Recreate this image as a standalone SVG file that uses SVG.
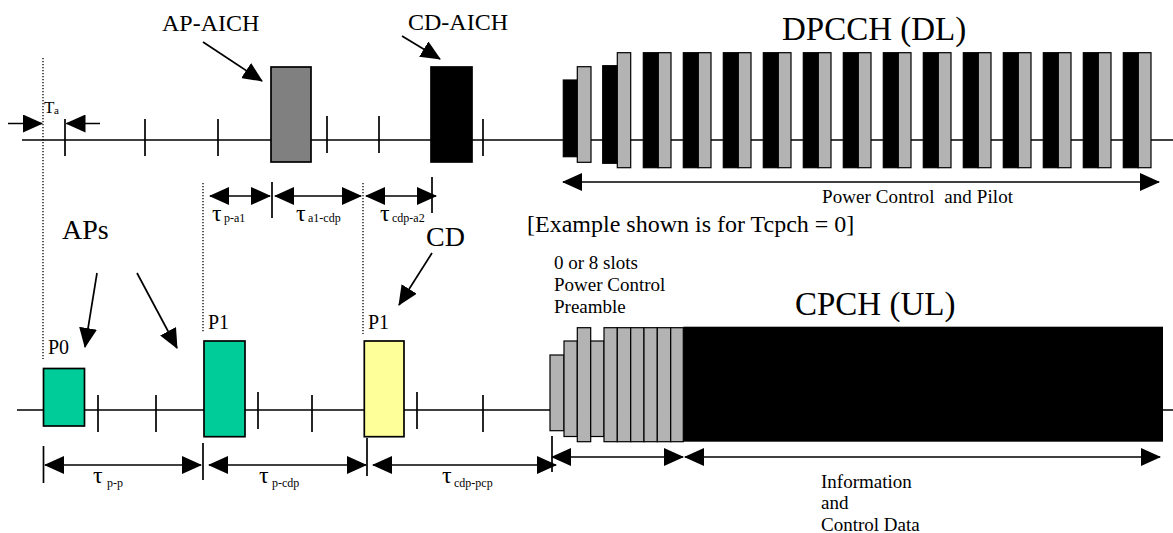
<svg xmlns="http://www.w3.org/2000/svg" width="1173" height="533" viewBox="0 0 1173 533">
<style>
text{font-family:"Liberation Serif","Times New Roman",serif;fill:#000}
.ln{stroke:#000;stroke-width:1.7;fill:none}
.dot{stroke:#000;stroke-width:1.3;stroke-dasharray:1.3,1.7;fill:none}
.da{stroke:#000;stroke-width:1.7;fill:none;marker-start:url(#ah);marker-end:url(#ah)}
.ar{stroke:#000;stroke-width:1.7;fill:none;marker-end:url(#ah)}
.blk{fill:#000;stroke:#000;stroke-width:1.2}
.gry{fill:#b3b3b3;stroke:#000;stroke-width:1.2}
.box{stroke:#000;stroke-width:1.7}
.t24{font-size:24px}.t33{font-size:33px}.t28{font-size:28px}.t20{font-size:20px}.t19{font-size:19px}
.tau{font-size:24px}.sub{font-size:12px}
</style>
<defs>
<marker id="ah" viewBox="0 0 20 18" refX="19" refY="9" markerWidth="20" markerHeight="18" markerUnits="userSpaceOnUse" orient="auto-start-reverse"><path d="M0,0 L20,9 L0,18 z" fill="#000"/></marker>
</defs>

<g id="connectors">
<!-- timelines -->
<line class="ln" x1="22" y1="140" x2="1173" y2="140"/>
<line class="ln" x1="17" y1="410" x2="1173" y2="410"/>
<!-- top ticks -->
<line class="ln" x1="65" y1="119" x2="65" y2="156"/>
<line class="ln" x1="145" y1="119" x2="145" y2="156"/>
<line class="ln" x1="218" y1="119" x2="218" y2="156"/>
<line class="ln" x1="327" y1="116" x2="327" y2="153"/>
<line class="ln" x1="379" y1="116" x2="379" y2="153"/>
<line class="ln" x1="483" y1="119" x2="483" y2="156"/>
<!-- bottom ticks -->
<line class="ln" x1="98" y1="395" x2="98" y2="432"/>
<line class="ln" x1="156" y1="395" x2="156" y2="432"/>
<line class="ln" x1="258" y1="392" x2="258" y2="429"/>
<line class="ln" x1="312" y1="395" x2="312" y2="432"/>
<line class="ln" x1="417" y1="392" x2="417" y2="429"/>
<line class="ln" x1="483" y1="395" x2="483" y2="432"/>
<!-- dotted reference lines -->
<line class="dot" x1="43" y1="58" x2="43" y2="359"/>
<line class="dot" x1="203" y1="183" x2="203" y2="333"/>
<line class="dot" x1="363" y1="183" x2="363" y2="334"/>
<!-- Ta arrows -->
<line class="ar" x1="8" y1="123.5" x2="42" y2="123.5"/>
<line class="ar" x1="100" y1="123.5" x2="66.5" y2="123.5"/>
<!-- top dimension arrows -->
<line class="ln" x1="272" y1="182" x2="272" y2="218"/>
<line class="ln" x1="432" y1="177" x2="432" y2="213"/>
<line class="da" x1="210" y1="196" x2="270" y2="196"/>
<line class="da" x1="275" y1="196" x2="361" y2="196"/>
<line class="da" x1="366" y1="196" x2="436" y2="196"/>
<!-- power control and pilot -->
<line class="da" x1="563" y1="182" x2="1159" y2="182"/>
<!-- bottom dimension arrows -->
<line class="ln" x1="43.5" y1="446" x2="43.5" y2="483"/>
<line class="ln" x1="203" y1="443" x2="203" y2="480"/>
<line class="ln" x1="367" y1="438" x2="367" y2="476"/>
<line class="ln" x1="552" y1="436" x2="552" y2="472"/>
<line class="da" x1="45" y1="465" x2="201" y2="465"/>
<line class="da" x1="209" y1="465" x2="366" y2="465"/>
<line class="da" x1="373" y1="465" x2="556" y2="465"/>
<line class="da" x1="552" y1="457" x2="683" y2="457"/>
<line class="da" x1="685" y1="457" x2="1160" y2="457"/>
<!-- callout arrows -->
<line class="ar" x1="203" y1="42" x2="262" y2="81"/>
<line class="ar" x1="402" y1="36" x2="440" y2="59"/>
<line class="ar" x1="97" y1="273" x2="85" y2="347"/>
<line class="ar" x1="137" y1="273" x2="177" y2="348"/>
<line class="ar" x1="432" y1="253" x2="399" y2="305"/>
</g>

<g id="ap-aich">
<rect class="box" x="271" y="67" width="40" height="95" fill="#808080"/>
<text class="t24" x="162" y="31">AP-AICH</text>
</g>
<g id="cd-aich">
<rect class="box" x="431" y="67" width="41" height="95" fill="#000"/>
<text class="t24" x="408" y="30">CD-AICH</text>
</g>

<g id="dpcch">
<rect class="blk" x="563.3" y="80" width="14" height="76.7"/>
<rect class="gry" x="577.3" y="66.7" width="13.7" height="95.6"/>
<rect class="blk" x="602.7" y="65.7" width="14.6" height="97.6"/>
<rect class="gry" x="617.3" y="52.7" width="13.4" height="115"/>
<g id="dpcch-slots">
<rect class="blk" x="643.3" y="52.7" width="15" height="115"/><rect class="gry" x="658.3" y="52.7" width="12.7" height="115"/>
<rect class="blk" x="683.3" y="52.7" width="15" height="115"/><rect class="gry" x="698.3" y="52.7" width="12.7" height="115"/>
<rect class="blk" x="723.3" y="52.7" width="15" height="115"/><rect class="gry" x="738.3" y="52.7" width="12.7" height="115"/>
<rect class="blk" x="763.3" y="52.7" width="15" height="115"/><rect class="gry" x="778.3" y="52.7" width="12.7" height="115"/>
<rect class="blk" x="803.3" y="52.7" width="15" height="115"/><rect class="gry" x="818.3" y="52.7" width="12.7" height="115"/>
<rect class="blk" x="843.3" y="52.7" width="15" height="115"/><rect class="gry" x="858.3" y="52.7" width="12.7" height="115"/>
<rect class="blk" x="883.3" y="52.7" width="15" height="115"/><rect class="gry" x="898.3" y="52.7" width="12.7" height="115"/>
<rect class="blk" x="923.3" y="52.7" width="15" height="115"/><rect class="gry" x="938.3" y="52.7" width="12.7" height="115"/>
<rect class="blk" x="963.3" y="52.7" width="15" height="115"/><rect class="gry" x="978.3" y="52.7" width="12.7" height="115"/>
<rect class="blk" x="1003.3" y="52.7" width="15" height="115"/><rect class="gry" x="1018.3" y="52.7" width="12.7" height="115"/>
<rect class="blk" x="1043.3" y="52.7" width="15" height="115"/><rect class="gry" x="1058.3" y="52.7" width="12.7" height="115"/>
<rect class="blk" x="1083.3" y="52.7" width="15" height="115"/><rect class="gry" x="1098.3" y="52.7" width="12.7" height="115"/>
<rect class="blk" x="1123.3" y="52.7" width="15" height="115"/><rect class="gry" x="1138.3" y="52.7" width="12.7" height="115"/>
</g>
<text class="t33" x="782" y="40">DPCCH (DL)</text>
<text class="t19" x="822" y="203" xml:space="preserve" textLength="191">Power Control  and Pilot</text>
</g>

<g id="ta-label">
<text x="44" y="113" font-size="17px">T</text>
<text x="54" y="114" font-size="11px">a</text>
</g>

<g id="tau-top">
<text class="tau" x="212" y="221">τ</text><text class="sub" x="224" y="222">p-a1</text>
<text class="tau" x="296" y="221">τ</text><text class="sub" x="308" y="222">a1-cdp</text>
<text class="tau" x="380" y="221">τ</text><text class="sub" x="392" y="222">cdp-a2</text>
</g>

<text id="example-note" class="t24" x="527" y="232">[Example shown is for Tcpch = 0]</text>

<g id="aps-label">
<text class="t28" x="62" y="239">APs</text>
</g>
<g id="cd-label">
<text class="t28" x="426" y="246">CD</text>
</g>

<g id="p0">
<rect class="box" x="43.5" y="368.5" width="41" height="57.5" fill="#00cc99"/>
<text class="t20" x="48" y="354">P0</text>
</g>
<g id="p1-ap">
<rect class="box" x="204" y="341" width="41" height="95.7" fill="#00cc99"/>
<text class="t20" x="208" y="329">P1</text>
</g>
<g id="p1-cd">
<rect class="box" x="364.3" y="341" width="39.7" height="95.7" fill="#ffff99"/>
<text class="t20" x="368" y="329">P1</text>
</g>

<g id="cpch">
<rect class="gry" x="550" y="355" width="14" height="75.7"/>
<rect class="gry" x="564" y="341" width="13.3" height="95.5"/>
<rect class="gry" x="577.3" y="327.7" width="13.4" height="114"/>
<rect class="gry" x="590.7" y="341" width="13.3" height="95.5"/>
<rect class="gry" x="604" y="327.7" width="13.3" height="114"/>
<rect class="gry" x="617.3" y="327.7" width="13.4" height="114"/>
<rect class="gry" x="630.7" y="327.7" width="13.3" height="114"/>
<rect class="gry" x="644" y="327.7" width="13.3" height="114"/>
<rect class="gry" x="657.3" y="327.7" width="13.4" height="114"/>
<rect class="gry" x="670.7" y="327.7" width="12.6" height="114"/>
<rect x="683.3" y="326.7" width="479.7" height="115" fill="#000"/>
<text class="t33" x="795" y="315">CPCH (UL)</text>
<text class="t19" x="554" y="269">0 or 8 slots</text>
<text class="t19" x="554" y="291">Power Control</text>
<text class="t19" x="554" y="313">Preamble</text>
</g>

<g id="tau-bottom">
<text class="tau" x="93" y="483">τ</text><text class="sub" x="107" y="487">p-p</text>
<text class="tau" x="259" y="483">τ</text><text class="sub" x="272" y="487">p-cdp</text>
<text class="tau" x="442" y="483">τ</text><text class="sub" x="454" y="487">cdp-pcp</text>
</g>

<g id="info-label">
<text class="t19" x="821" y="488">Information</text>
<text class="t19" x="821" y="509">and</text>
<text class="t19" x="821" y="531">Control Data</text>
</g>
</svg>
